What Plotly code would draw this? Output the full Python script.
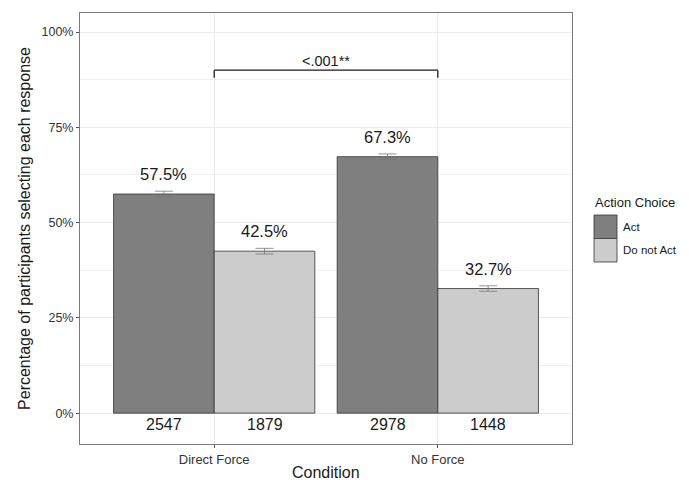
import plotly.graph_objects as go

# Data
conditions = ["Direct Force", "No Force"]
choices = ["Act", "Do not Act"]
pct_act = [57.5, 67.3]
pct_not = [42.5, 32.7]
se_act = [0.74, 0.71]
se_not = [0.74, 0.71]
n_act = [2547, 2978]
n_not = [1879, 1448]
y_ticks = [0, 25, 50, 75, 100]
y_tick_labels = ["0%", "25%", "50%", "75%", "100%"]
p_label = "<.001**"
x_title = "Condition"

fills = {"Act": "#7f7f7f", "Do not Act": "#cccccc"}
font_family = "Liberation Sans, Arial, sans-serif"
xpos = [1, 2]
half = 0.225  # half of a dodged bar's width (0.9 group width / 2 bars / 2)

fig = go.Figure()
for name, vals, errs in [("Act", pct_act, se_act), ("Do not Act", pct_not, se_not)]:
    fig.add_trace(go.Bar(
        x=xpos, y=vals, name=name, showlegend=False,
        marker=dict(color=fills[name], line=dict(color="#333333", width=0.8)),
        error_y=dict(type="data", array=errs, color="#777777", thickness=0.8, width=9),
    ))

annotations = []
# value labels above bars, counts below
for i, x in enumerate(xpos):
    for off, v, n in [(-half, pct_act[i], n_act[i]), (half, pct_not[i], n_not[i])]:
        annotations.append(dict(x=x + off, y=v + 5.2, text=f"{v:.1f}%", showarrow=False,
                                font=dict(size=16.5, color="#1a1a1a"), xref="x", yref="y"))
        annotations.append(dict(x=x + off, y=-2.9, text=str(n), showarrow=False,
                                font=dict(size=16, color="#1a1a1a"), xref="x", yref="y"))

# significance bracket
shapes = [
    dict(type="line", x0=xpos[0], x1=xpos[1], y0=90, y1=90, xref="x", yref="y",
         line=dict(color="#1a1a1a", width=1.3)),
    dict(type="line", x0=xpos[0], x1=xpos[0], y0=90, y1=88, xref="x", yref="y",
         line=dict(color="#1a1a1a", width=1.3)),
    dict(type="line", x0=xpos[1], x1=xpos[1], y0=90, y1=88, xref="x", yref="y",
         line=dict(color="#1a1a1a", width=1.3)),
]
annotations.append(dict(x=sum(xpos) / 2, y=92.4, text=p_label, showarrow=False,
                        font=dict(size=14.5, color="#1a1a1a"), xref="x", yref="y"))

# legend and x title placed in paper coordinates
W, H, L, B = 492.0, 431.0, 80.0, 444.0
def px(xp):
    return (xp - L) / W
def py(yp):
    return (B - yp) / H

annotations.append(dict(x=0.5, y=py(472), text=x_title, showarrow=False, borderpad=0,
                        xanchor="center", yanchor="middle", xref="paper", yref="paper",
                        font=dict(size=16, color="#1a1a1a")))
annotations.append(dict(x=px(593), y=py(202), text="Action Choice", showarrow=False,
                        xanchor="left", yanchor="middle", xref="paper", yref="paper",
                        font=dict(size=13, color="#1a1a1a")))
key_top = 215
key_h = 23.5
for k, name in enumerate(choices):
    y0 = key_top + k * key_h
    shapes.append(dict(type="rect", xref="paper", yref="paper",
                       x0=px(594), x1=px(617), y0=py(y0 + key_h), y1=py(y0),
                       fillcolor=fills[name], line=dict(color="#333333", width=0.8)))
    annotations.append(dict(x=px(621), y=py(y0 + key_h / 2), text=name, showarrow=False,
                            xanchor="left", yanchor="middle", xref="paper", yref="paper",
                            font=dict(size=11.5, color="#1a1a1a")))

grid = "#ebebeb"
fig.update_layout(
    width=689, height=480,
    margin=dict(l=80, r=117, t=13, b=36),
    paper_bgcolor="white", plot_bgcolor="white",
    barmode="group", bargap=0.1, bargroupgap=0,
    font=dict(family=font_family, color="#1a1a1a"),
    annotations=annotations, shapes=shapes,
    xaxis=dict(
        range=[0.4, 2.6], tickvals=xpos, ticktext=conditions,
        showgrid=True, gridcolor=grid, gridwidth=1,
        showline=True, linecolor="#7a7a7a", linewidth=1, mirror=True,
        ticks="outside", ticklen=3, tickcolor="#555555",
        tickfont=dict(size=13, color="#333333"),
        zeroline=False, automargin=False,
    ),
    yaxis=dict(
        range=[-8.1, 105], tickvals=y_ticks, ticktext=y_tick_labels,
        showgrid=True, gridcolor=grid, gridwidth=1,
        minor=dict(tickvals=[12.5, 37.5, 62.5, 87.5], showgrid=True, gridcolor="#f1f1f1", gridwidth=1),
        showline=True, linecolor="#7a7a7a", linewidth=1, mirror=True,
        ticks="outside", ticklen=3, tickcolor="#555555",
        tickfont=dict(size=12.5, color="#333333"),
        title=dict(text="Percentage of participants selecting each response",
                   font=dict(size=16, color="#1a1a1a"), standoff=6),
        zeroline=False, automargin=False,
    ),
)

fig.write_html("out.html")
